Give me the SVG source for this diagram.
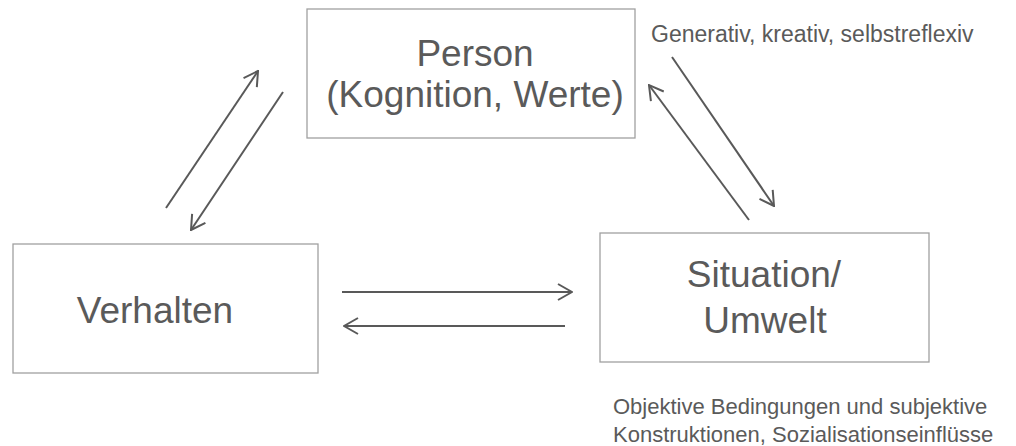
<svg xmlns="http://www.w3.org/2000/svg" width="1016" height="446" viewBox="0 0 1016 446">
  <style>
    .box { fill: #ffffff; stroke: #a0a0a0; stroke-width: 1.3; }
    .big { font-family: "Liberation Sans", Arial, sans-serif; font-size: 37px; fill: #5a5a5a; text-anchor: middle; }
    .note { font-family: "Liberation Sans", Arial, sans-serif; font-size: 22px; fill: #5a5a5a; }
    .arrow { stroke: #595959; stroke-width: 2; fill: none; marker-end: url(#head); }
  </style>
  <defs>
    <marker id="head" viewBox="0 0 16 18" refX="15" refY="9" markerWidth="16" markerHeight="18" markerUnits="userSpaceOnUse" orient="auto">
      <path d="M1,1 L15,9 L1,17" fill="none" stroke="#595959" stroke-width="2"/>
    </marker>
  </defs>
  <rect width="1016" height="446" fill="#ffffff"/>

  <g id="person">
    <rect class="box" x="307" y="9" width="328" height="129"/>
    <text class="big" x="475" y="66">Person</text>
    <text class="big" x="475" y="107">(Kognition, Werte)</text>
  </g>

  <g id="verhalten">
    <rect class="box" x="13" y="244" width="305" height="129"/>
    <text class="big" x="155" y="323">Verhalten</text>
  </g>

  <g id="situation">
    <rect class="box" x="600" y="233" width="329" height="129"/>
    <text class="big" x="764" y="287">Situation/</text>
    <text class="big" x="765" y="333">Umwelt</text>
  </g>

  <g id="note-person">
    <text class="note" x="651" y="42" style="font-size:23px">Generativ, kreativ, selbstreflexiv</text>
  </g>

  <g id="note-situation">
    <text class="note" x="613" y="414">Objektive Bedingungen und subjektive</text>
    <text class="note" x="613" y="442">Konstruktionen, Sozialisationseinflüsse</text>
  </g>

  <g id="connectors">
    <line class="arrow" x1="166" y1="208" x2="258" y2="71"/>
    <line class="arrow" x1="283" y1="92" x2="191" y2="230"/>
    <line class="arrow" x1="749" y1="220" x2="649" y2="85"/>
    <line class="arrow" x1="672" y1="57" x2="774" y2="206"/>
    <line class="arrow" x1="342" y1="292" x2="572" y2="292"/>
    <line class="arrow" x1="565" y1="326" x2="344" y2="326"/>
  </g>
</svg>
